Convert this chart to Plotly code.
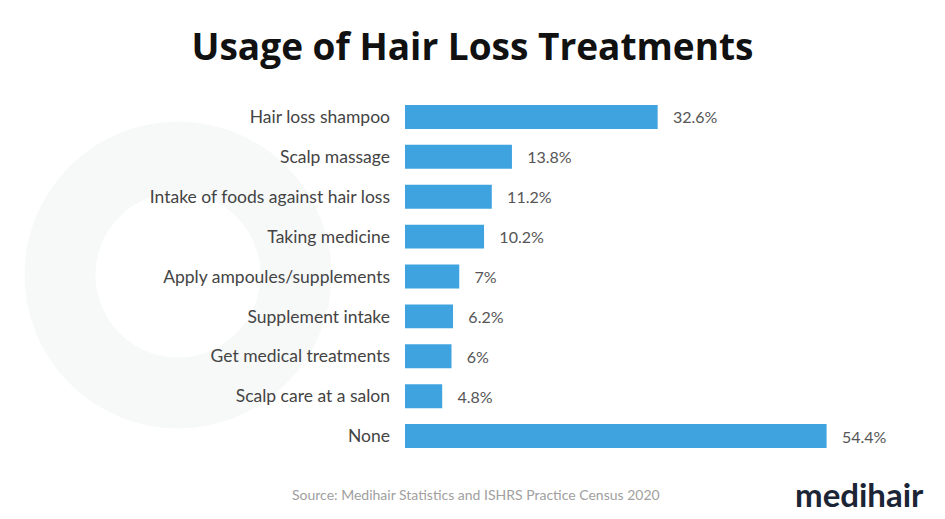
import plotly.graph_objects as go

categories = ["Hair loss shampoo", "Scalp massage", "Intake of foods against hair loss",
              "Taking medicine", "Apply ampoules/supplements", "Supplement intake",
              "Get medical treatments", "Scalp care at a salon", "None"]
values = [32.6, 13.8, 11.2, 10.2, 7, 6.2, 6, 4.8, 54.4]
value_labels = ["32.6%", "13.8%", "11.2%", "10.2%", "7%", "6.2%", "6%", "4.8%", "54.4%"]

W, H = 945, 519
L, R, T, B = 405, 75, 97, 63
pw, ph = W - L - R, H - T - B

def px(x):
    return (x - L) / pw

def py(y):
    return (H - y - B) / ph

NB = "\u00a0\u00a0\u00a0"

fig = go.Figure(go.Bar(
    y=categories, x=values, orientation="h",
    marker=dict(color="#3fa3df", line=dict(width=0)),
    width=0.6,
    text=[NB + t for t in value_labels], textposition="outside",
    textfont=dict(family="Lato", size=16, color="#555555"),
    cliponaxis=False,
))

cx, cy, rc = 178, 275, 118
fig.update_layout(
    width=W, height=H,
    margin=dict(l=L, r=R, t=T, b=B),
    paper_bgcolor="white", plot_bgcolor="rgba(0,0,0,0)",
    showlegend=False,
    bargap=0.4,
    xaxis=dict(range=[0, 60], visible=False, fixedrange=True),
    yaxis=dict(autorange="reversed", showgrid=False, zeroline=False, showline=False,
               ticks="", ticklabelstandoff=14,
               tickfont=dict(family="Lato", size=17.5, color="#444444")),
    title=dict(text="<b>Usage of Hair Loss Treatments</b>", x=0.5, xanchor="center",
               y=1 - 47 / H, yanchor="middle",
               font=dict(family="Open Sans", size=37, color="#111111")),
    shapes=[dict(type="circle", xref="paper", yref="paper", layer="below",
                 x0=px(cx - rc), x1=px(cx + rc), y0=py(cy + rc), y1=py(cy - rc),
                 line=dict(color="#f7f9f9", width=71), fillcolor="rgba(0,0,0,0)")],
    annotations=[
        dict(text="Source: Medihair Statistics and ISHRS Practice Census 2020",
             xref="paper", yref="paper", x=px(476), y=py(494), xanchor="center", yanchor="middle",
             showarrow=False, font=dict(family="Lato", size=14, color="#a0a0a0")),
        dict(text="<b>medihair</b>", xref="paper", yref="paper", x=px(926), y=py(494),
             xanchor="right", yanchor="middle", showarrow=False,
             font=dict(family="Lato", size=33, color="#1c2536")),
    ],
)

fig.write_html("out.html")
